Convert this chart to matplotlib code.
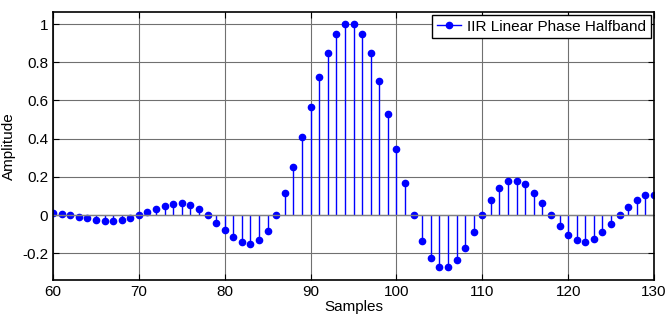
import numpy as np
import matplotlib
matplotlib.use('Agg')
import matplotlib.pyplot as plt
from matplotlib.lines import Line2D

## 標本番号と振幅
samples = np.arange(60, 131)
amplitude = [0.01, 0.005, 0.0, -0.009, -0.017, -0.026, -0.03, -0.03, -0.024, -0.014,
             0.0, 0.016, 0.033, 0.049, 0.059, 0.061, 0.052, 0.03, 0.0, -0.04,
             -0.08, -0.117, -0.143, -0.152, -0.131, -0.084, 0.0, 0.113, 0.25, 0.408,
             0.567, 0.721, 0.85, 0.949, 1.0, 1.0, 0.949, 0.846, 0.703, 0.531,
             0.344, 0.166, 0.0, -0.134, -0.227, -0.27, -0.274, -0.237, -0.171, -0.087,
             0.0, 0.079, 0.14, 0.176, 0.18, 0.162, 0.117, 0.063, 0.0, -0.058,
             -0.106, -0.133, -0.14, -0.124, -0.091, -0.049, 0.0, 0.044, 0.08, 0.105,
             0.106]
xticks = [60, 70, 80, 90, 100, 110, 120, 130]
yticks = [-0.2, 0, 0.2, 0.4, 0.6, 0.8, 1]
yticklabels = ['-0.2', '0', '0.2', '0.4', '0.6', '0.8', '1']
label = 'IIR Linear Phase Halfband'

plt.rcParams['font.family'] = ['Liberation Sans', 'DejaVu Sans']

fig = plt.figure(figsize=(6.69, 3.25), dpi=100)
ax = fig.add_axes([53/669, 45/325, 601/669, 268/325])

markers, stems, base = ax.stem(samples, amplitude)
plt.setp(markers, color='blue', markersize=4.5)
plt.setp(stems, color='blue', linewidth=1)
plt.setp(base, color='gray', linewidth=1)

ax.set_xlim(60, 130)
ax.set_ylim(-0.34, 1.063)
ax.set_xticks(xticks)
ax.set_yticks(yticks)
ax.set_yticklabels(yticklabels)
ax.grid(True, color='#707070', linewidth=0.8)
ax.tick_params(direction='in', top=True, right=True, labelsize=11, length=4)
for s in ax.spines.values():
    s.set_linewidth(1.2)
ax.set_xlabel('Samples', fontsize=11, labelpad=1)
ax.set_ylabel('Amplitude', fontsize=11, labelpad=4)

# 凡例: 線の右端に丸印
h = Line2D([0, 1], [0, 0], color='blue', linewidth=1, marker='o',
           markersize=4.5, markevery=[1])
leg = ax.legend([h], [label], loc='upper right', fontsize=11, fancybox=False,
                framealpha=1, edgecolor='black', borderpad=0.3, handlelength=1.6,
                handletextpad=0.4, borderaxespad=0.2)
leg.get_frame().set_linewidth(1)

fig.savefig('out.png', dpi=100)
